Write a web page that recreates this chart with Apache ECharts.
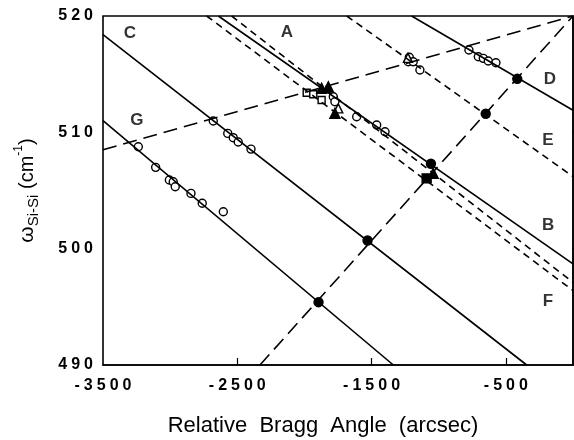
<!DOCTYPE html>
<html><head><meta charset="utf-8">
<script src="https://cdn.jsdelivr.net/npm/echarts@6/dist/echarts.min.js"></script>
<style>html,body{margin:0;padding:0;background:#fff}#c{width:574px;height:440px}</style>
</head><body><div id="c"></div>
<script>
// axis ticks
const xTickLabels = [-3500, -2500, -1500, -500];
const xTickMarks = [-2500, -1500, -500];
const yTickLabels = [490, 500, 510, 520];
const yTickMarks = [500, 510];

// solid lines (endpoints)
const lineC = [[-3500, 518.4], [-345, 490]];
const lineG = [[-3500, 511.0], [-1338, 490]];
const lineB = [[-2641, 520], [0, 498.7]];
const lineD = [[-1202, 520], [0, 511.9]];
// short-dashed lines
const lineAF1 = [[-2542, 520], [0, 497.1]];
const lineAF2 = [[-2728, 520], [0, 496.4]];
const lineE = [[-1685, 520], [0, 506.2]];
// long-dashed lines
const longDash1 = [[-3500, 508.5], [0, 520]];
const longDash2 = [[-2331, 490], [0, 520]];

// open circles
const circlesC = [[-2679, 510.97], [-2571, 509.91], [-2530, 509.54], [-2493, 509.17], [-2398, 508.56]];
const circlesG = [[-3237, 508.76], [-3108, 506.99], [-3006, 505.90], [-2977, 505.75], [-2962, 505.32], [-2845, 504.75], [-2761, 503.9], [-2604, 503.17]];
const circlesD = [[-775, 517.08], [-705, 516.5], [-668, 516.36], [-631, 516.13], [-574, 515.98]];
const circlesE = [[-1219, 516.45], [-1227, 516.07], [-1190, 516.07], [-1140, 515.36]];
const circlesB = [[-1785, 513.06], [-1773, 512.63], [-1611, 511.34], [-1462, 510.63], [-1400, 510.05]];
// other markers
const openSquares = [[-1983, 513.40], [-1934, 513.27], [-1872, 512.78]];
const openTriangles = [[-1748, 512.06], [-1229, 516.4]];
const filledTriangles = [[-1822, 513.92], [-1872, 513.78], [-1041, 506.47], [-1773, 511.63]];
const filledSquares = [[-1090, 506.04]];
const filledCircles = [[-1895, 495.4], [-1530, 500.7], [-1058, 507.3], [-650, 511.6], [-415, 514.6]];

// curve labels
const labelNames = ['C', 'A', 'G', 'D', 'E', 'B', 'F'];
const labelX = [-3299, -2130, -3247, -172, -186, -186, -186];
const labelY = [518.5, 518.6, 511.0, 514.6, 509.3, 502.0, 495.5];

const FONT = '"Liberation Sans", Arial, Helvetica, sans-serif';
const spaced = v => String(v).split('').join('\u2005');

function lineSeries(data, type) {
  return { type: 'line', data: data, symbol: 'none', silent: true, animation: false,
    lineStyle: { color: '#000', width: 1.6, type: type } };
}
function scatterSeries(data, symbol, size, filled) {
  return { type: 'scatter', data: data, symbol: symbol, symbolSize: size, animation: false,
    itemStyle: { color: filled ? '#000' : '#fff', borderColor: '#000', borderWidth: 1.4, opacity: 1 } };
}

const chart = echarts.init(document.getElementById('c'), null, { renderer: 'canvas' });
chart.setOption({
  backgroundColor: '#fff',
  animation: false,
  grid: { left: 103, right: 1, top: 16, bottom: 75, containLabel: false, outerBoundsMode: 'none',
    show: true, borderColor: '#000', borderWidth: 1.6 },
  xAxis: {
    type: 'value', min: -3500, max: 0, interval: 1000,
    splitLine: { show: false },
    axisLine: { lineStyle: { color: '#000', width: 1.6 } },
    axisTick: { inside: true, length: 7, customValues: xTickMarks, lineStyle: { color: '#000', width: 1.2 } },
    axisLabel: { customValues: xTickLabels, formatter: spaced, color: '#000', fontFamily: FONT, fontWeight: 'bold', fontSize: 16, margin: 13 },
    name: 'Relative  Bragg  Angle  (arcsec)', nameLocation: 'middle', nameGap: 50,
    nameTextStyle: { color: '#000', fontFamily: FONT, fontSize: 22, padding: [0, 30, 0, 0] }
  },
  yAxis: {
    type: 'value', min: 490, max: 520, interval: 10,
    splitLine: { show: false },
    axisLine: { lineStyle: { color: '#000', width: 1.6 } },
    axisTick: { inside: true, length: 7, customValues: yTickMarks, lineStyle: { color: '#000', width: 1.2 } },
    axisLabel: { customValues: yTickLabels, formatter: spaced, color: '#000', fontFamily: FONT, fontWeight: 'bold', fontSize: 16, margin: 10 },
    name: '{w|ω}{s|Si-Si}{p| (cm}{u|-1}{p|)}', nameLocation: 'middle', nameGap: 62,
    nameTextStyle: {
      color: '#000', fontFamily: FONT,
      rich: {
        w: { fontSize: 21, fontFamily: FONT, lineHeight: 28, verticalAlign: 'middle' },
        s: { fontSize: 15, fontFamily: FONT, lineHeight: 28, verticalAlign: 'bottom' },
        p: { fontSize: 20, fontFamily: FONT, lineHeight: 28, verticalAlign: 'middle' },
        u: { fontSize: 12, fontFamily: FONT, lineHeight: 28, verticalAlign: 'top' }
      }
    }
  },
  series: [
    lineSeries(lineC, 'solid'),
    lineSeries(lineG, 'solid'),
    lineSeries(lineB, 'solid'),
    lineSeries(lineD, 'solid'),
    lineSeries(lineAF1, [7, 5]),
    lineSeries(lineAF2, [7, 5]),
    lineSeries(lineE, [7, 5]),
    lineSeries(longDash1, [14, 7]),
    lineSeries(longDash2, [14, 7]),
    scatterSeries(circlesC, 'circle', 8, false),
    scatterSeries(circlesG, 'circle', 8, false),
    scatterSeries(circlesD, 'circle', 8, false),
    scatterSeries(circlesE, 'circle', 8, false),
    scatterSeries(circlesB, 'circle', 8, false),
    scatterSeries(openSquares, 'rect', 7, false),
    scatterSeries(openTriangles, 'triangle', 9, false),
    scatterSeries(filledTriangles, 'triangle', 10, true),
    scatterSeries(filledSquares, 'rect', 9, true),
    scatterSeries(filledCircles, 'circle', 9, true),
    {
      type: 'scatter', symbolSize: 0, animation: false, silent: true,
      data: labelNames.map((n, i) => ({ name: n, value: [labelX[i], labelY[i]] })),
      label: { show: true, position: 'inside', formatter: '{b}', color: '#000', fontFamily: FONT, fontWeight: 'bold', fontSize: 17 }
    }
  ]
});
</script>
</body></html>
